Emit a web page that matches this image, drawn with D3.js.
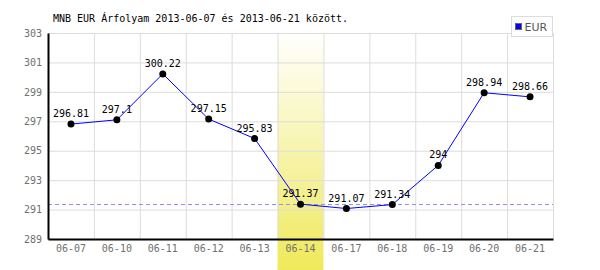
<!DOCTYPE html>
<html>
<head>
<meta charset="utf-8">
<script src="https://d3js.org/d3.v7.min.js"></script>
<style>
  body { margin: 0; background: #fff; }
  text { font-family: "DejaVu Sans Mono", monospace; font-size: 10px; }
</style>
</head>
<body>
<div id="chart"></div>
<script>
// chart data
var dates = ["06-07", "06-10", "06-11", "06-12", "06-13", "06-14", "06-17", "06-18", "06-19", "06-20", "06-21"];
var rates = [296.81, 297.1, 300.22, 297.15, 295.83, 291.37, 291.07, 291.34, 294, 298.94, 298.66];
var yTicks = [289, 291, 293, 295, 297, 299, 301, 303];
var highlightDate = "06-14";
var refLine = 291.37;

var W = 600, H = 270;
var m = {left: 48, right: 47, top: 33, bottom: 31};

var svg = d3.select('#chart').append('svg')
    .attr('width', W).attr('height', H);

var x = d3.scaleBand().domain(dates).range([m.left, W - m.right]);
var y = d3.scaleLinear().domain([289, 303]).range([H - m.bottom, m.top]);

var defs = svg.append('defs');
var grad = defs.append('linearGradient').attr('id', 'hl')
    .attr('x1', 0).attr('y1', 0).attr('x2', 0).attr('y2', 1);
grad.append('stop').attr('offset', '0%').attr('stop-color', '#ffffff');
grad.append('stop').attr('offset', '100%').attr('stop-color', '#efe95a');

// highlighted day
svg.append('rect')
    .attr('x', x(highlightDate)).attr('y', m.top)
    .attr('width', x.bandwidth()).attr('height', H - m.top)
    .attr('fill', 'url(#hl)');

// grid
svg.append('g').selectAll('line').data(yTicks).enter().append('line')
    .attr('x1', m.left).attr('x2', W - m.right)
    .attr('y1', function(d) { return y(d) + 0.5; })
    .attr('y2', function(d) { return y(d) + 0.5; })
    .attr('stroke', '#dcdcdc');
svg.append('g').selectAll('line').data(dates.slice(1).concat(['end'])).enter().append('line')
    .attr('x1', function(d) { return (d == 'end' ? W - m.right : x(d)) + 0.5; })
    .attr('x2', function(d) { return (d == 'end' ? W - m.right : x(d)) + 0.5; })
    .attr('y1', m.top).attr('y2', H - m.bottom)
    .attr('stroke', '#dcdcdc');

// reference line
svg.append('line')
    .attr('x1', m.left).attr('x2', W - m.right)
    .attr('y1', Math.round(y(refLine)) + 0.5).attr('y2', Math.round(y(refLine)) + 0.5)
    .attr('stroke', '#9090ff').attr('stroke-dasharray', '4,3');

// axes
var yAxis = svg.append('g').attr('transform', 'translate(' + m.left + ',0)')
    .call(d3.axisLeft(y).tickValues(yTicks).tickSize(0).tickPadding(6));
var xAxis = svg.append('g').attr('transform', 'translate(0,' + (H - m.bottom) + ')')
    .call(d3.axisBottom(x).tickSize(0).tickPadding(6));
[xAxis, yAxis].forEach(function(a) {
  a.select('.domain').attr('stroke', '#000').attr('stroke-width', 2);
  a.selectAll('text').attr('fill', '#707070').style('font-family', '"DejaVu Sans Mono", monospace').style('font-size', '10px');
});

// line and points
var cx = function(d, i) { return x(dates[i]) + x.bandwidth() / 2; };
svg.append('path')
    .datum(rates)
    .attr('fill', 'none').attr('stroke', '#0000ff').attr('stroke-width', 1)
    .attr('d', d3.line().x(cx).y(function(d) { return y(d); }));

svg.append('g').selectAll('circle').data(rates).enter().append('circle')
    .attr('cx', cx).attr('cy', function(d) { return y(d); })
    .attr('r', 3.5).attr('fill', '#000');

svg.append('g').selectAll('text').data(rates).enter().append('text')
    .attr('x', cx).attr('y', function(d) { return y(d) - 7; })
    .attr('text-anchor', 'middle').attr('fill', '#000')
    .text(function(d) { return d; });

// title
svg.append('text').attr('x', 53).attr('y', 22).attr('fill', '#000')
    .text('MNB EUR Árfolyam 2013-06-07 és 2013-06-21 között.');

// legend
var lg = svg.append('g').attr('transform', 'translate(511.5,16.5)');
lg.append('rect').attr('width', 41).attr('height', 20)
    .attr('fill', '#fff').attr('stroke', '#dcdcdc');
lg.append('rect').attr('x', 4).attr('y', 7).attr('width', 6).attr('height', 6)
    .attr('fill', '#0000ff').attr('stroke', '#666');
lg.append('text').attr('x', 13).attr('y', 14.5).attr('fill', '#555')
    .style('font-family', '"DejaVu Sans", sans-serif').style('font-size', '11px').text('EUR');
</script>
</body>
</html>
